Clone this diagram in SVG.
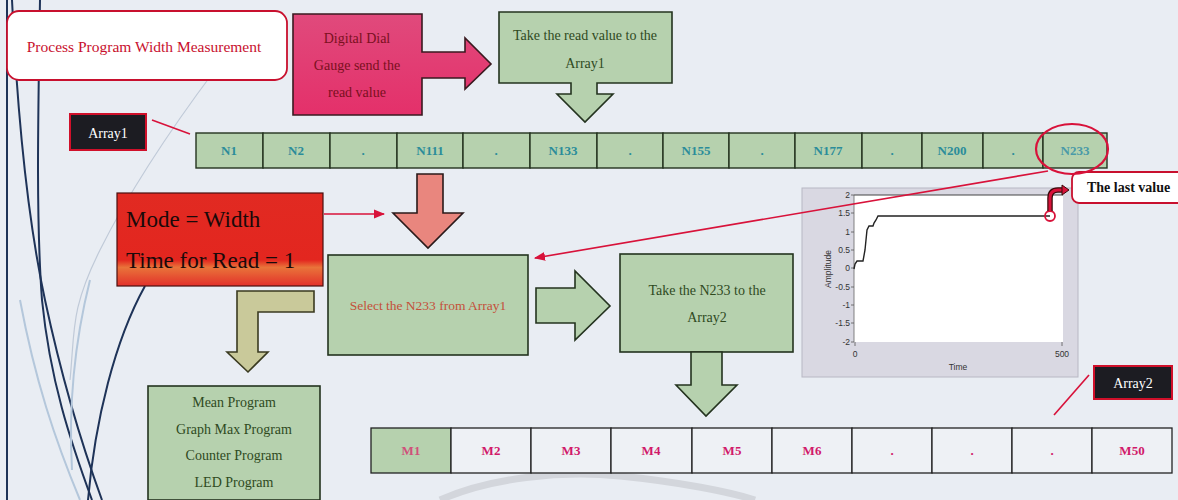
<svg xmlns="http://www.w3.org/2000/svg" width="1178" height="500" viewBox="0 0 1178 500">
  <defs>
    <style>
      .serif { font-family: "Liberation Serif", "Times New Roman", serif; }
      .sans { font-family: "Liberation Sans", Arial, sans-serif; }
      .green { fill: #b6d1ae; stroke: #24331f; stroke-width: 1.6; }
      .gtxt { fill: #2f4a1e; font-size: 14px; text-anchor: middle; }
      .cell { fill: #b6d1ae; stroke: #24331f; stroke-width: 1.4; }
      .ncell { fill: #2b8c9a; font-size: 13px; font-weight: bold; text-anchor: middle; }
      .mcell { fill: #eef1f5; stroke: #222; stroke-width: 1.3; }
      .mtxt { fill: #d11a6a; font-size: 13px; font-weight: bold; text-anchor: middle; }
      .tag { fill: #1c1c22; stroke: #d0102a; stroke-width: 2; }
      .tagtxt { fill: #ffffff; font-size: 14px; text-anchor: middle; }
      .redline { stroke: #d8123a; stroke-width: 1.6; fill: none; }
      .tick { fill: #333; font-size: 8.5px; text-anchor: end; }
      .deco-dark { stroke: #1e3358; stroke-width: 2; fill: none; }
      .deco-light { stroke: #b4c7db; stroke-width: 2; fill: none; }
    </style>
    <marker id="redHead" viewBox="0 0 10 10" refX="9" refY="5" markerWidth="7" markerHeight="7" orient="auto">
      <path d="M0,1 L10,5 L0,9 Z" fill="#d8123a"/>
    </marker>
    <linearGradient id="pinkFill" x1="0" y1="0" x2="0" y2="1">
      <stop offset="0" stop-color="#e04a7c"/>
      <stop offset="1" stop-color="#e4306a"/>
    </linearGradient>
    <linearGradient id="modeFill" x1="0" y1="0" x2="0" y2="1">
      <stop offset="0" stop-color="#e12a22"/>
      <stop offset="0.72" stop-color="#e3261f"/>
      <stop offset="0.8" stop-color="#e9743a"/>
      <stop offset="1" stop-color="#e2302a"/>
    </linearGradient>
  </defs>

  <!-- page background -->
  <rect x="0" y="0" width="1178" height="500" fill="#e9edf3"/>

  <!-- decorative swooshes on the left edge and bottom -->
  <g id="decoration">
    <line x1="7" y1="0" x2="7" y2="500" class="deco-dark"/>
    <path d="M12 0 C 18 130, 30 230, 45 300 S 80 440, 102 500" class="deco-dark"/>
    <path d="M40 0 C 38 120, 36 220, 42 300 C 50 380, 70 440, 92 500" class="deco-dark" stroke-width="1.6"/>
    <path d="M145 286 C 115 340, 95 420, 88 500" class="deco-dark"/>
    <path d="M90 280 C 75 340, 68 400, 72 470" class="deco-light"/>
    <path d="M20 300 C 35 380, 55 440, 80 500" class="deco-light"/>
    <path d="M215 70 C 170 130, 130 190, 100 250 S 75 330, 70 380" stroke="#c0cad8" stroke-width="1.2" fill="none"/>
    <path d="M440 500 C 490 478, 560 470, 620 476 C 680 482, 730 492, 755 500" stroke="#d3d6dc" stroke-width="7" fill="none"/>
  </g>

  <!-- title -->
  <g id="title">
    <rect x="7" y="11" width="280" height="69" rx="12" fill="#ffffff" stroke="#c8102e" stroke-width="1.8"/>
    <text x="144" y="52" class="serif" font-size="15.5" fill="#c8102e" text-anchor="middle">Process Program Width Measurement</text>
  </g>

  <!-- gauge source block with right arrow -->
  <g id="gauge">
    <path d="M293 14 H422 V52 H465 V38 L491 64 L465 89 V78 H422 V115 H293 Z" fill="url(#pinkFill)" stroke="#3a1a20" stroke-width="1.6"/>
    <text x="357" y="43" class="serif" font-size="14" fill="#7a1020" text-anchor="middle">Digital Dial</text>
    <text x="357" y="70" class="serif" font-size="14" fill="#7a1020" text-anchor="middle">Gauge send the</text>
    <text x="357" y="97" class="serif" font-size="14" fill="#7a1020" text-anchor="middle">read value</text>
  </g>

  <!-- take read value block with down arrow -->
  <g id="take-read">
    <path d="M499 12 H672 V83 H597 V94 H613 L585 122 L557 94 H571 V83 H499 Z" class="green"/>
    <text x="585" y="40" class="serif gtxt">Take the read value to the</text>
    <text x="585" y="68" class="serif gtxt">Array1</text>
  </g>

  <!-- Array1 tag -->
  <g id="array1-tag">
    <rect x="70" y="114" width="76" height="36" class="tag"/>
    <text x="108" y="138" class="serif tagtxt">Array1</text>
  </g>

  <!-- Array1 cells -->
  <g id="array1">
    <rect x="196" y="133" width="67" height="35" class="cell"/>
    <rect x="263" y="133" width="67" height="35" class="cell"/>
    <rect x="330" y="133" width="67" height="35" class="cell"/>
    <rect x="397" y="133" width="66" height="35" class="cell"/>
    <rect x="463" y="133" width="67" height="35" class="cell"/>
    <rect x="530" y="133" width="67" height="35" class="cell"/>
    <rect x="597" y="133" width="66" height="35" class="cell"/>
    <rect x="663" y="133" width="66" height="35" class="cell"/>
    <rect x="729" y="133" width="66" height="35" class="cell"/>
    <rect x="795" y="133" width="67" height="35" class="cell"/>
    <rect x="862" y="133" width="60" height="35" class="cell"/>
    <rect x="922" y="133" width="61" height="35" class="cell"/>
    <rect x="983" y="133" width="60" height="35" class="cell"/>
    <rect x="1043" y="133" width="64" height="35" class="cell"/>
    <g class="serif ncell">
      <text x="229" y="155">N1</text>
      <text x="296" y="155">N2</text>
      <text x="363" y="155">.</text>
      <text x="430" y="155">N111</text>
      <text x="496" y="155">.</text>
      <text x="563" y="155">N133</text>
      <text x="630" y="155">.</text>
      <text x="696" y="155">N155</text>
      <text x="762" y="155">.</text>
      <text x="828" y="155">N177</text>
      <text x="892" y="155">.</text>
      <text x="952" y="155">N200</text>
      <text x="1013" y="155">.</text>
      <text x="1075" y="155" fill="#4a9aa8">N233</text>
    </g>
  </g>

  <!-- mode settings block -->
  <g id="mode">
    <rect x="117" y="193" width="206" height="93" fill="url(#modeFill)" stroke="#4a1010" stroke-width="1.2"/>
    <text x="126" y="227" class="serif" font-size="23" fill="#1a0a0a">Mode = Width</text>
    <text x="126" y="268" class="serif" font-size="23" fill="#1a0a0a">Time for Read = 1</text>
  </g>

  <!-- big salmon down arrow into the select block -->
  <g id="down-arrow-select">
    <path d="M417 174 H443 V213 H463 L428 248 L393 213 H417 Z" fill="#e9867e" stroke="#2a1a1a" stroke-width="1.6"/>
  </g>

  <!-- select block -->
  <g id="select">
    <rect x="328" y="255" width="200" height="100" class="green"/>
    <text x="428" y="310" class="serif" font-size="13.5" fill="#c4503a" text-anchor="middle">Select the N233 from Array1</text>
  </g>

  <!-- right arrow from select to take -->
  <g id="right-arrow-take">
    <path d="M536 288 H575 V271 L610 306 L575 340 V323 H536 Z" class="green" stroke-width="1.8"/>
  </g>

  <!-- take to Array2 block -->
  <g id="take-n233">
    <rect x="620" y="254" width="173" height="98" class="green"/>
    <text x="707" y="295" class="serif gtxt">Take the N233 to the</text>
    <text x="707" y="322" class="serif gtxt">Array2</text>
  </g>

  <!-- down arrow to Array2 -->
  <g id="down-arrow-array2">
    <path d="M691 352 H722 V385 H737 L706 416 L676 385 H691 Z" class="green" stroke-width="1.8"/>
  </g>

  <!-- olive bent arrow to program list -->
  <g id="bent-arrow">
    <path d="M314 291 V312 H258 V352 H268 L248 372 L227 352 H237 V291 Z" fill="#c9c99a" stroke="#3a3a20" stroke-width="1.6"/>
  </g>

  <!-- program list -->
  <g id="programs">
    <rect x="148" y="386" width="172" height="114" class="green"/>
    <text x="234" y="407" class="serif gtxt">Mean Program</text>
    <text x="234" y="434" class="serif gtxt">Graph Max Program</text>
    <text x="234" y="460" class="serif gtxt">Counter Program</text>
    <text x="234" y="487" class="serif gtxt">LED Program</text>
  </g>

  <!-- waveform chart -->
  <g id="chart">
    <rect x="802" y="188" width="276" height="189" fill="#d9d8e2" stroke="#b8b8c4" stroke-width="1"/>
    <rect x="854" y="195" width="209" height="147" fill="#ffffff"/>
    <line x1="854" y1="195" x2="1063" y2="195" stroke="#444" stroke-width="1.2"/>
    <line x1="854" y1="195" x2="854" y2="342" stroke="#666" stroke-width="0.8"/>
    <g stroke="#555" stroke-width="0.8">
      <line x1="851" y1="195" x2="854" y2="195"/>
      <line x1="851" y1="213" x2="854" y2="213"/>
      <line x1="851" y1="232" x2="854" y2="232"/>
      <line x1="851" y1="250" x2="854" y2="250"/>
      <line x1="851" y1="268" x2="854" y2="268"/>
      <line x1="851" y1="287" x2="854" y2="287"/>
      <line x1="851" y1="305" x2="854" y2="305"/>
      <line x1="851" y1="323" x2="854" y2="323"/>
      <line x1="851" y1="342" x2="854" y2="342"/>
      <line x1="855" y1="342" x2="855" y2="346"/>
      <line x1="1062" y1="342" x2="1062" y2="346"/>
    </g>
    <g class="sans tick">
      <text x="850" y="198">2</text>
      <text x="850" y="216">1.5</text>
      <text x="850" y="235">1</text>
      <text x="850" y="253">0.5</text>
      <text x="850" y="271">0</text>
      <text x="850" y="290">-0.5</text>
      <text x="850" y="308">-1</text>
      <text x="850" y="326">-1.5</text>
      <text x="850" y="345">-2</text>
    </g>
    <text x="855" y="357" class="sans" font-size="8.5" fill="#333" text-anchor="middle">0</text>
    <text x="1062" y="357" class="sans" font-size="8.5" fill="#333" text-anchor="middle">500</text>
    <text x="958" y="370" class="sans" font-size="8.5" fill="#333" text-anchor="middle">Time</text>
    <text x="831" y="269" class="sans" font-size="8.5" fill="#333" text-anchor="middle" transform="rotate(-90 831 269)">Amplitude</text>
    <path d="M854 269 L855 264 L857 261 L863 261 L865 250 L867 230 L869 226 L873 226 L874 223 L876 220 L878 216 L1050 216" stroke="#222" stroke-width="1.4" fill="none"/>
    <circle cx="1050" cy="216" r="5" fill="none" stroke="#d8123a" stroke-width="1.8"/>
    <path d="M1050 211 V198 Q1050 190 1058 190 H1063" stroke="#3a0a0a" stroke-width="5.5" fill="none"/>
    <path d="M1050 211 V198 Q1050 190 1058 190 H1063" stroke="#d8123a" stroke-width="3" fill="none"/>
    <path d="M1062 185 L1069 190 L1062 195 Z" fill="#d8123a" stroke="#3a0a0a" stroke-width="1"/>
  </g>

  <!-- last value callout -->
  <g id="last-value">
    <rect x="1072" y="172" width="120" height="31" rx="7" fill="#ffffff" stroke="#c8102e" stroke-width="1.8"/>
    <text x="1087" y="192" class="serif" font-size="14" font-weight="bold" fill="#111">The last value</text>
  </g>

  <!-- Array2 tag -->
  <g id="array2-tag">
    <rect x="1094" y="366" width="78" height="33" class="tag"/>
    <text x="1133" y="388" class="serif tagtxt">Array2</text>
  </g>

  <!-- Array2 cells -->
  <g id="array2">
    <rect x="371" y="428" width="80" height="45" class="mcell" style="fill:#b6d1ae"/>
    <rect x="451" y="428" width="80" height="45" class="mcell"/>
    <rect x="531" y="428" width="80" height="45" class="mcell"/>
    <rect x="611" y="428" width="81" height="45" class="mcell"/>
    <rect x="692" y="428" width="80" height="45" class="mcell"/>
    <rect x="772" y="428" width="80" height="45" class="mcell"/>
    <rect x="852" y="428" width="80" height="45" class="mcell"/>
    <rect x="932" y="428" width="80" height="45" class="mcell"/>
    <rect x="1012" y="428" width="80" height="45" class="mcell"/>
    <rect x="1092" y="428" width="80" height="45" class="mcell"/>
    <g class="serif mtxt">
      <text x="411" y="455" fill="#d0507a">M1</text>
      <text x="491" y="455">M2</text>
      <text x="571" y="455">M3</text>
      <text x="651" y="455">M4</text>
      <text x="732" y="455">M5</text>
      <text x="812" y="455">M6</text>
      <text x="892" y="455">.</text>
      <text x="972" y="455">.</text>
      <text x="1052" y="455">.</text>
      <text x="1132" y="455">M50</text>
    </g>
  </g>

  <!-- connectors and call-out marks -->
  <g id="connectors">
    <line x1="152" y1="120" x2="190" y2="134" class="redline"/>
    <ellipse cx="1072" cy="149" rx="36" ry="25" fill="none" stroke="#d8123a" stroke-width="2.2"/>
    <line x1="1048" y1="171" x2="535" y2="258" class="redline" marker-end="url(#redHead)"/>
    <line x1="324" y1="214" x2="384" y2="214" class="redline" marker-end="url(#redHead)"/>
    <line x1="1089" y1="375" x2="1054" y2="415" class="redline"/>
  </g>
</svg>
